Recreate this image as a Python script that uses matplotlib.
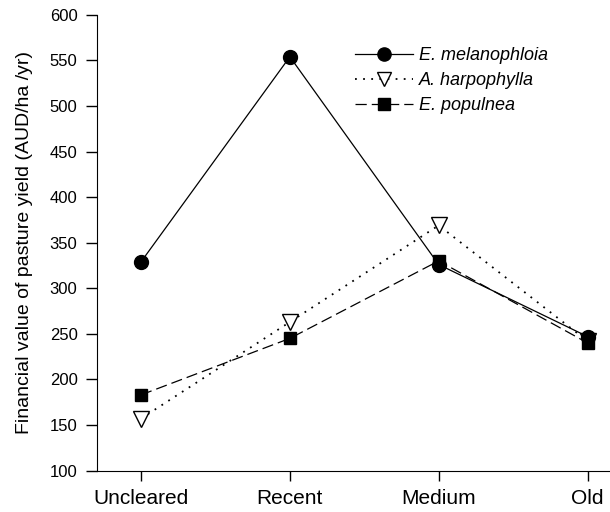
import matplotlib.pyplot as plt

plt.rcParams['font.family'] = ['Liberation Sans', 'DejaVu Sans']

# age classes and financial value of pasture yield (AUD/ha/yr)
classes = ['Uncleared', 'Recent', 'Medium', 'Old']
melanophloia = [329, 554, 326, 247]
harpophylla = [157, 263, 369, 242]
populnea = [183, 245, 330, 240]

x = list(range(len(classes)))

fig = plt.figure(figsize=(6.1, 5.12), dpi=100)
ax = fig.add_axes([0.159, 0.081, 0.841, 0.89])

ax.plot(x, melanophloia, color='black', lw=0.9, ls='-', marker='o', ms=10,
        label='E. melanophloia', zorder=3)
ax.plot(x, harpophylla, color='black', lw=1.3, ls=(0, (1, 3.5)), marker='v', ms=11,
        mfc='white', mec='black', mew=1.0, label='A. harpophylla', zorder=2)
ax.plot(x, populnea, color='black', lw=0.9, ls=(0, (9, 4)), marker='s', ms=9,
        label='E. populnea', zorder=4)

ax.set_xlim(-0.296, 3.151)
ax.set_ylim(100, 600)
ax.set_yticks(range(100, 601, 50))
ax.set_xticks(x)
ax.set_xticklabels(classes, fontsize=15)
ax.tick_params(axis='y', labelsize=12, direction='out', length=8, width=1, pad=6)
ax.tick_params(axis='x', direction='out', length=7, width=1, pad=6)
ax.spines['top'].set_visible(False)
ax.spines['right'].set_visible(False)
ax.set_ylabel('Financial value of pasture yield (AUD/ha /yr)', fontsize=14, labelpad=12)

handles, labels = ax.get_legend_handles_labels()
leg = fig.legend(handles, labels, loc='upper left', bbox_to_anchor=(355 / 610, 1 - 47 / 512),
                 frameon=False, fontsize=13, handlelength=3.2, labelspacing=0.45,
                 handletextpad=0.35, borderpad=0, borderaxespad=0, markerscale=0.95)
for t in leg.get_texts():
    t.set_fontstyle('italic')

plt.savefig('out.png', dpi=100)
